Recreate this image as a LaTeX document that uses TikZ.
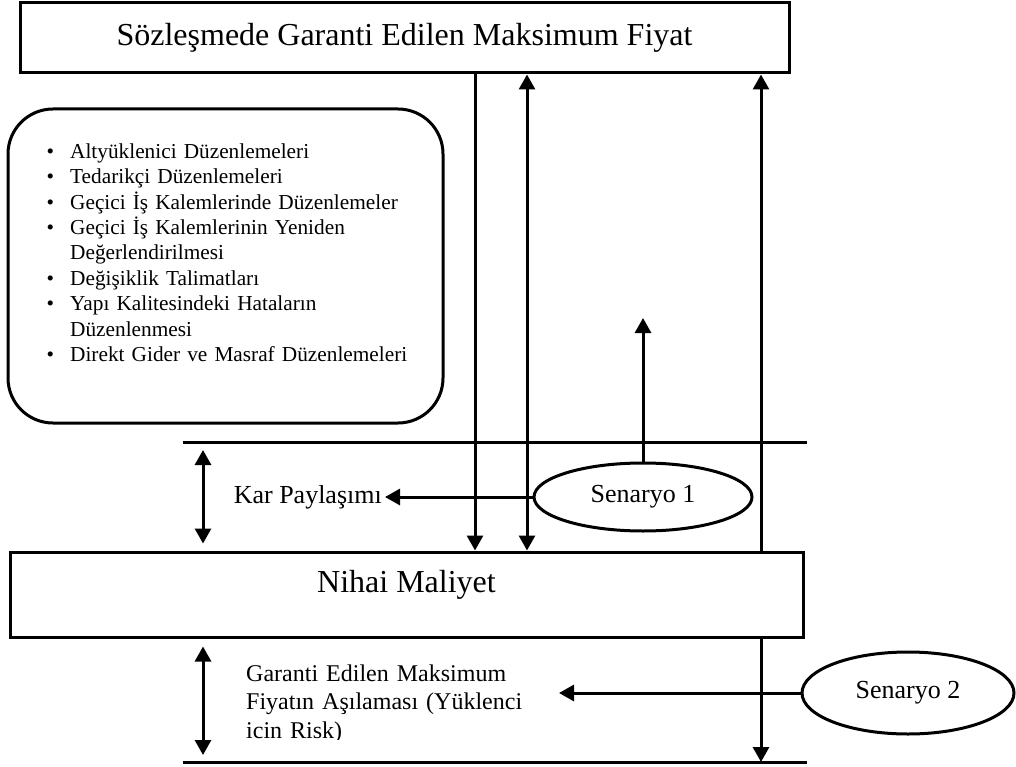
\documentclass[tikz,border=0pt]{standalone}
\usepackage{fontspec}
\setmainfont{Liberation Serif}
\usetikzlibrary{arrows.meta,shapes.geometric}
\tikzset{
  box/.style={draw, line width=3pt, inner sep=0pt},
  scen/.style={draw, ellipse, line width=3pt, inner sep=0pt, font=\fontsize{26}{30}\selectfont},
  arr/.style={line width=3pt, -{Triangle[width=16pt,length=15pt]}},
  darr/.style={line width=3pt, {Triangle[width=16pt,length=15pt]}-{Triangle[width=16pt,length=15pt]}},
  rule/.style={line width=3pt},
}

\begin{document}
\begin{tikzpicture}[x=1pt,y=-1pt]
\useasboundingbox (0,0) rectangle (1016,767);
% boxes
\node[box, minimum width=769pt, minimum height=70pt, font=\fontsize{32}{38}\selectfont] (gmp) at (404.5,38) {Sözleşmede Garanti Edilen Maksimum Fiyat};
\node[box, rounded corners=45pt, minimum width=435pt, minimum height=314pt] (adj) at (225.5,266) {};
\node[anchor=base west, inner sep=0pt, text width=400pt, font=\fontsize{21.3}{25.4}\selectfont] (adjlist) at (8,133) {%
  \begin{list}{\textbullet}{\setlength{\leftmargin}{62pt}\setlength{\labelwidth}{30pt}%
      \setlength{\labelsep}{16pt}\setlength{\itemsep}{0pt}\setlength{\parsep}{0pt}%
      \setlength{\topsep}{0pt}\setlength{\partopsep}{0pt}}
    \item Altyüklenici Düzenlemeleri
    \item Tedarikçi Düzenlemeleri
    \item Geçici İş Kalemlerinde Düzenlemeler
    \item Geçici İş Kalemlerinin Yeniden\\ Değerlendirilmesi
    \item Değişiklik Talimatları
    \item Yapı Kalitesindeki Hataların\\ Düzenlenmesi
    \item Direkt Gider ve Masraf Düzenlemeleri
  \end{list}};
\node[box, minimum width=793pt, minimum height=85pt] (nihai) at (406.5,594.5) {};
\node[anchor=base, font=\fontsize{32}{38}\selectfont] (nihaitext) at (406.5,592) {Nihai Maliyet};

% level lines
\coordinate (l1w) at (183,442); \coordinate (l1e) at (807,442);
\coordinate (l2w) at (183,762); \coordinate (l2e) at (807,762);
\draw[rule] (l1w) -- (l1e);
\draw[rule] (l2w) -- (l2e);

% scenarios
\node[scen, minimum width=218pt, minimum height=68pt] (s1) at (643,497) {Senaryo 1};
\node[scen, minimum width=212pt, minimum height=82pt] (s2) at (908,693) {Senaryo 2};
\node[anchor=base east, inner sep=3pt, font=\fontsize{26}{30}\selectfont] (kar) at (385,503) {Kar Paylaşımı};
\begin{scope}
  \clip (240,640) rectangle (560,739);
  \node[anchor=base west, inner sep=0pt, text width=300pt, align=left, font=\fontsize{24}{28.5}\selectfont] (risk) at (246,681) {Garanti Edilen Maksimum\\ Fiyatın Aşılaması (Yüklenci\\ icin Risk)};
\end{scope}

% connectors
\coordinate (v1) at (475,0); \coordinate (v2) at (527,0);
\coordinate (v3) at (761,0); \coordinate (v4) at (203,0);
\coordinate (s1tip) at (643,318); \coordinate (s2tip) at (559,693);
\draw[arr] (v1 |- gmp.south) -- (v1 |- nihai.north);
\draw[darr] (v2 |- gmp.south) -- (v2 |- nihai.north);
\draw[arr] (v3 |- nihai.north) -- (v3 |- gmp.south);
\draw[arr] (v3 |- nihai.south) -- (v3 |- l2w);
\draw[darr, shorten <=8pt, shorten >=7pt] (v4 |- l1w) -- (v4 |- nihai.north);
\draw[darr, shorten <=8pt, shorten >=7pt] (v4 |- nihai.south) -- (v4 |- l2w);
\draw[arr] (s1) -- (s1tip);
\draw[arr] (s1) -- (s1 -| kar.east);
\draw[arr] (s2) -- (s2tip);
\end{tikzpicture}
\end{document}
